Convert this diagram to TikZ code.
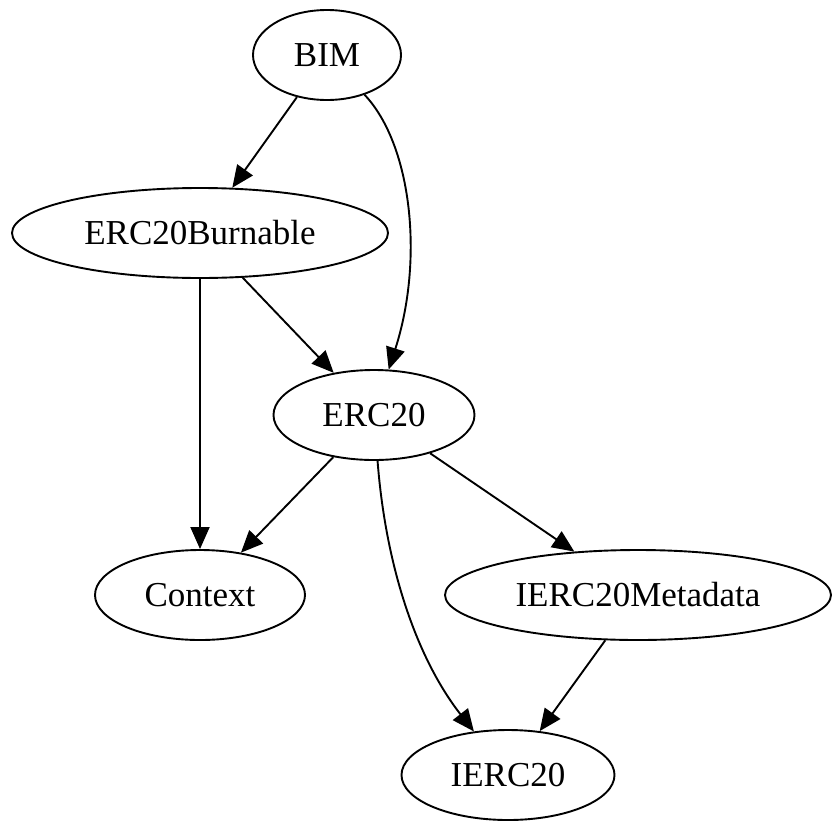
\documentclass[tikz,border=0pt]{standalone}
\usepackage{fontspec}
\setmainfont{Liberation Serif}
\usetikzlibrary{arrows.meta,shapes.geometric}

\begin{document}
\begin{tikzpicture}[x=1pt, y=-1pt, ->, >={Triangle[length=22pt,width=19pt]},
	line width=1.9pt]

	\tikzstyle{contract}=[ellipse,draw,inner sep=0pt,minimum height=90pt,
		font=\fontsize{35}{42}\selectfont]
	\useasboundingbox (0,0) rectangle (832,822);

	\node[contract,minimum width=148pt] (BIM)      at (327,55)  {BIM};
	\node[contract,minimum width=376pt] (Burnable) at (200,233) {ERC20Burnable};
	\node[contract,minimum width=201pt] (ERC)      at (374,415) {ERC20};
	\node[contract,minimum width=210pt] (Ctx)      at (200,595) {Context};
	\node[contract,minimum width=386pt] (Meta)     at (638,595) {IERC20Metadata};
	\node[contract,minimum width=213pt] (IERC)     at (508,775) {IERC20};

	% From BIM
	\path (BIM) edge (Burnable);
	\draw (BIM) .. controls (412,145) and (424,260) .. (ERC);

	% From ERC20Burnable
	\path (Burnable) edge (ERC);
	\path (Burnable.south) edge (Ctx.north);

	% From ERC20
	\path (ERC) edge (Ctx);
	\path (ERC) edge (Meta);
	\draw (ERC) .. controls (386,570) and (418,660) .. (IERC);

	% From IERC20Metadata
	\path (Meta) edge (IERC);

\end{tikzpicture}
\end{document}
